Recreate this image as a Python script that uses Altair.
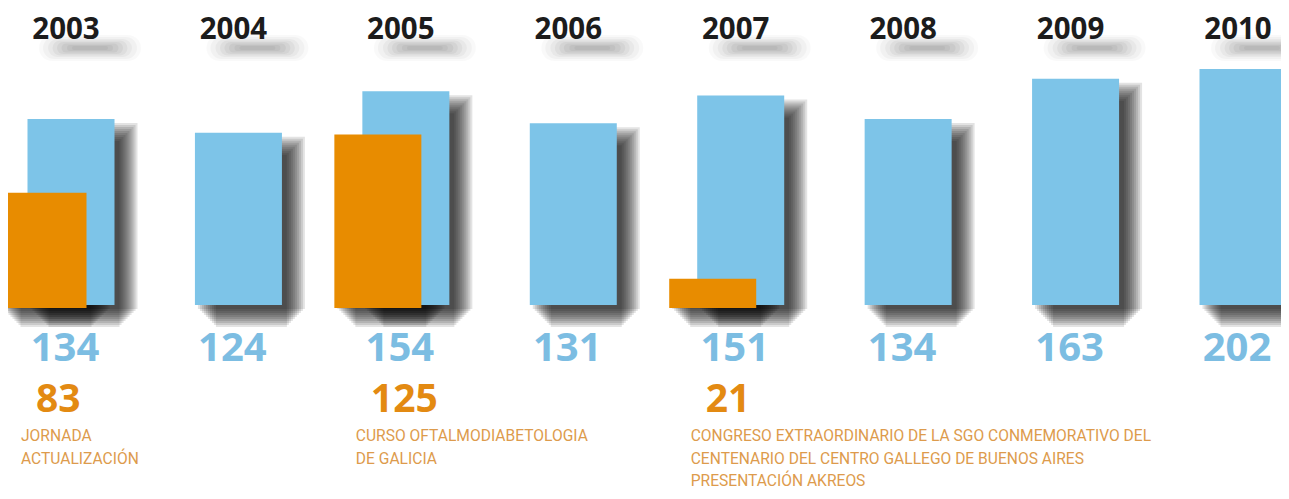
import altair as alt
import pandas as pd

years = [2003, 2004, 2005, 2006, 2007, 2008, 2009, 2010]
attendees = [134, 124, 154, 131, 151, 134, 163, 202]

event_years = [2003, 2005, 2007]
event_values = [83, 125, 21]
event_labels = [
    "JORNADA\nACTUALIZACIÓN",
    "CURSO OFTALMODIABETOLOGIA\nDE GALICIA",
    "CONGRESO EXTRAORDINARIO DE LA SGO CONMEMORATIVO DEL\nCENTENARIO DEL CENTRO GALLEGO DE BUENOS AIRES\nPRESENTACIÓN AKREOS",
]

BLUE = "#7dc4e8"
BLUE_TXT = "#7cbde2"
ORANGE = "#e88c00"
ORANGE_TXT = "#e38a12"
DESC_TXT = "#dd9b4c"
FONT = "Open Sans"

main = pd.DataFrame({"year": years, "value": attendees, "label": [str(v) for v in attendees],
                     "ylabel": [str(y) for y in years]})
ev = pd.DataFrame({"year": event_years, "value": event_values,
                   "label": [str(v) for v in event_values], "desc": event_labels})

xs = alt.X("year:Q", scale=alt.Scale(domain=[2003, 2010], range=[63, 1235], padding=0, nice=False, zero=False), axis=None)
ys = alt.Y("value:Q", scale=alt.Scale(domain=[0, 170], range=[297, 61], clamp=True, nice=False), axis=None)

BW = 87


def shadow_layers(df, xoff):
    layers = []
    for k in [-8, -6, -4, -2, 0, 2, 4, 6, 8, 10]:
        layers.append(
            alt.Chart(df).mark_bar(
                width=BW + 2 * k, color="#000000", opacity=0.11,
                xOffset=xoff + 13, yOffset=14 - k, y2Offset=14 + k,
            ).encode(x=xs, y=ys)
        )
    return layers


layers = []
layers += shadow_layers(main, 0)
layers += shadow_layers(ev, -28)

blue = alt.Chart(main).mark_bar(width=BW, color=BLUE).encode(x=xs, y=ys)
orange = alt.Chart(ev).mark_bar(width=BW, color=ORANGE, xOffset=-28, yOffset=3, y2Offset=3).encode(x=xs, y=ys)

# soft blurred shadows under the year labels
yshadow = []
for half, sw, op in [(38, 26, 0.025), (36, 22, 0.03), (33, 18, 0.035), (30, 15, 0.04),
                     (27, 12, 0.045), (24, 9, 0.045), (20, 6, 0.045), (16, 4, 0.04)]:
    yshadow.append(
        alt.Chart(main).mark_rule(color="#000000", opacity=op, strokeWidth=sw, strokeCap="round",
                                  xOffset=19 - half, x2Offset=19 + half)
        .encode(x=xs, x2="year:Q", y=alt.value(40))
    )

ytext = alt.Chart(main).mark_text(font=FONT, fontSize=29.5, fontWeight="bold", color="#1c1c1c",
                                  dx=-5, baseline="middle").encode(x=xs, y=alt.value(22), text="ylabel:N")

vtext = alt.Chart(main).mark_text(font=FONT, fontSize=40, fontWeight="bold", color=BLUE_TXT,
                                  dx=-6, baseline="middle").encode(x=xs, y=alt.value(341), text="label:N")

otext = alt.Chart(ev).mark_text(font=FONT, fontSize=39, fontWeight="bold", color=ORANGE_TXT,
                                dx=-35, align="left", baseline="middle").encode(x=xs, y=alt.value(392), text="label:N")

dtext = alt.Chart(ev).mark_text(font="Roboto", fontSize=15.6, color=DESC_TXT, dx=-50, align="left",
                                baseline="alphabetic", lineBreak="\n", lineHeight=22.5).encode(
    x=xs, y=alt.value(433), text="desc:N")

chart = alt.layer(*layers, blue, orange, *yshadow, ytext, vtext, otext, dtext).properties(
    width=1273, height=483, padding=0, autosize=alt.AutoSizeParams(type="none")
).configure_view(stroke=None)

chart.save("out.html", embed_options={"renderer": "svg", "actions": False})
